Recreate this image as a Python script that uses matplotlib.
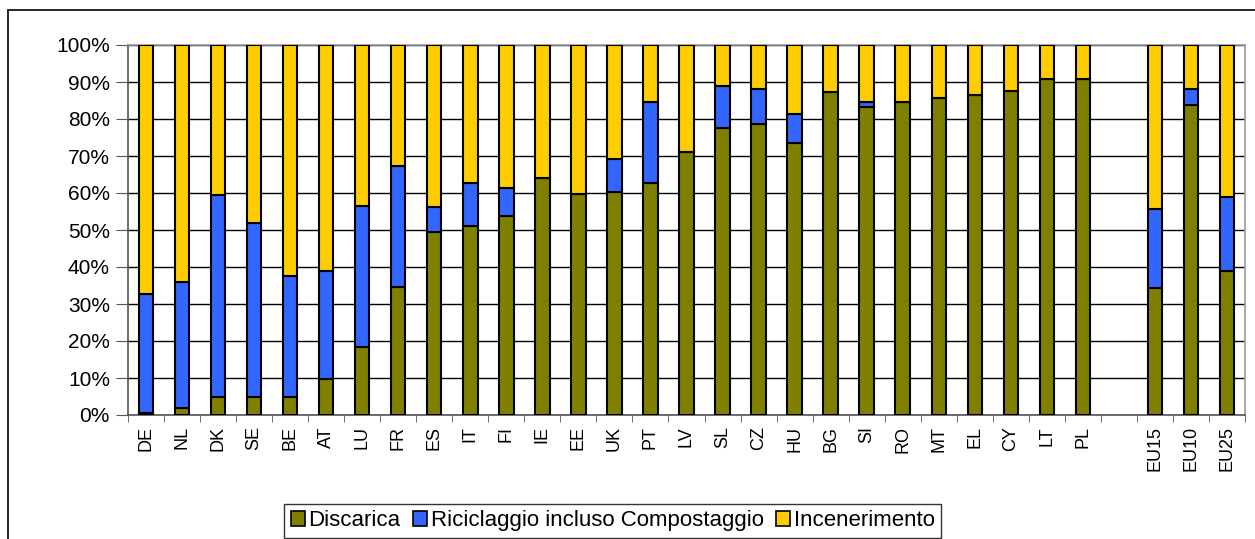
import numpy as np
import matplotlib
matplotlib.use("Agg")
import matplotlib.pyplot as plt
from matplotlib.patches import Rectangle, Patch

plt.rcParams['font.family'] = ['Liberation Sans', 'DejaVu Sans']

# data (quote percentuali)
paesi = ['DE', 'NL', 'DK', 'SE', 'BE', 'AT', 'LU', 'FR', 'ES', 'IT', 'FI', 'IE', 'EE', 'UK',
         'PT', 'LV', 'SL', 'CZ', 'HU', 'BG', 'SI', 'RO', 'MT', 'EL', 'CY', 'LT', 'PL',
         '', 'EU15', 'EU10', 'EU25']
discarica = [0.5, 2.0, 5.0, 5.0, 5.0, 9.6, 18.5, 34.6, 49.4, 51.1, 53.8, 64.1, 59.6, 60.2,
             62.7, 71.0, 77.5, 78.6, 73.6, 87.2, 83.3, 84.5, 85.8, 86.4, 87.7, 90.8, 90.8,
             0, 34.4, 83.8, 39.0]
riciclaggio = [32.1, 34.0, 54.5, 46.8, 32.7, 29.4, 37.9, 32.7, 6.9, 11.5, 7.6, 0.0, 0.0, 9.1,
               22.0, 0.0, 11.5, 9.5, 7.7, 0.0, 1.2, 0.0, 0.0, 0.0, 0.0, 0.0, 0.0,
               0, 21.2, 4.3, 19.8]
incenerimento = [67.4, 64.0, 40.5, 48.2, 62.3, 61.0, 43.6, 32.7, 43.7, 37.4, 38.6, 35.9, 40.4, 30.7,
                 15.3, 29.0, 11.0, 11.9, 18.7, 12.8, 15.5, 15.5, 14.2, 13.6, 12.3, 9.2, 9.2,
                 0, 44.4, 11.9, 41.2]
serie = ['Discarica', 'Riciclaggio incluso Compostaggio', 'Incenerimento']
colori = ['#808000', '#3366FF', '#FFCC00']

fig = plt.figure(figsize=(12.55, 5.39), dpi=100)
ax = fig.add_axes([128/1255, 124/539, 1117/1255, 370/539])

x = np.arange(len(paesi))
d = np.array(discarica)
r = np.array(riciclaggio)
i = np.array(incenerimento)
vis = np.array([p != '' for p in paesi])

bottoms = [np.zeros(len(x)), d, d + r]
for vals, b, col in zip([d, r, i], bottoms, colori):
    ax.bar(x[vis], vals[vis], 0.4, bottom=b[vis], color=col, edgecolor='black',
           linewidth=1.5, zorder=3)

ax.set_xlim(-0.5, len(paesi) - 0.5)
ax.set_ylim(0, 100)
ax.set_yticks(np.arange(0, 101, 10))
ax.set_yticklabels([f'{v}%' for v in range(0, 101, 10)], fontsize=15)
ax.yaxis.grid(True, color='black', linewidth=1, zorder=0)
ax.set_axisbelow(True)

ax.set_xticks(x)
ax.set_xticklabels(paesi, rotation=90, fontsize=13)
ax.set_xticks(np.arange(-0.5, len(paesi) + 0.5, 1), minor=True)
ax.tick_params(axis='x', which='major', length=0, pad=8)
ax.tick_params(axis='x', which='minor', length=5, color='#555555', direction='out')
ax.tick_params(axis='y', length=9, color='#555555', pad=4)

for s in ['left', 'bottom']:
    ax.spines[s].set_color('#555555')
for s in ['top', 'right']:
    ax.spines[s].set_color('#999999')
for s in ax.spines.values():
    s.set_linewidth(1.2)

# cornice esterna
fig.patches.append(Rectangle((8/1255, -0.1), 1.2, (539 - 10)/539 + 0.1,
                             transform=fig.transFigure, fill=False,
                             edgecolor='black', linewidth=1.2))

handles = [Patch(facecolor=c, edgecolor='black', linewidth=1.2) for c in colori]
leg = fig.legend(handles, serie, loc='lower left', bbox_to_anchor=(284/1255, 1/539),
                 ncol=3, fontsize=16, frameon=True, fancybox=False, edgecolor='black',
                 handlelength=0.65, handleheight=0.65, handletextpad=0.15,
                 columnspacing=0.55, borderpad=0.3, borderaxespad=0)
leg.get_frame().set_linewidth(1.0)

fig.savefig('out.png', dpi=100)
